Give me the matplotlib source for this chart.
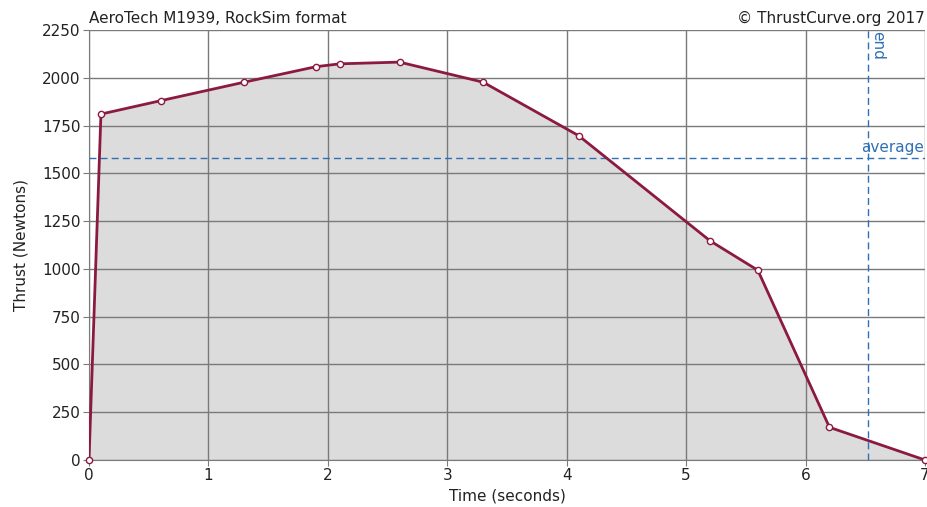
import matplotlib
matplotlib.use('Agg')
import matplotlib.pyplot as plt

# thrust curve data points (seconds, Newtons)
time_s = [0.0, 0.1, 0.6, 1.3, 1.9, 2.1, 2.6, 3.3, 4.1, 5.2, 5.6, 6.2, 7.0]
thrust_n = [0, 1810, 1880, 1977, 2058, 2073, 2082, 1977, 1697, 1147, 993, 171, 0]

average_thrust = 1582
burn_end = 6.52

x_ticks = [0, 1, 2, 3, 4, 5, 6, 7]
y_ticks = [0, 250, 500, 750, 1000, 1250, 1500, 1750, 2000, 2250]

title_left = 'AeroTech M1939, RockSim format'
title_right = '\u00a9 ThrustCurve.org 2017'

line_color = '#8c1a40'
ref_color = '#2f6fb5'
grid_color = '#7a7a7a'
text_color = '#222222'

fig = plt.figure(figsize=(9.27, 5.07), dpi=100)
ax = fig.add_axes([89 / 927, 47 / 507, 836 / 927, 430 / 507])

ax.fill_between(time_s, thrust_n, 0, color='#dcdcdc', zorder=1)
ax.plot(time_s, thrust_n, color=line_color, linewidth=2, zorder=3)
ax.plot(time_s, thrust_n, linestyle='none', marker='o', markersize=4.5,
        markerfacecolor='white', markeredgecolor=line_color, markeredgewidth=1, zorder=4,
        clip_on=False)

# average / end reference lines
ax.axhline(average_thrust, color=ref_color, linestyle=(0, (5, 3)), linewidth=1, zorder=2.6)
ax.axvline(burn_end, color=ref_color, linestyle=(0, (5, 3)), linewidth=1, zorder=2.6)
ax.text(6.99, average_thrust + 15, 'average', color=ref_color, fontsize=11,
        ha='right', va='bottom', zorder=5)
ax.text(burn_end + 0.02, 2245, 'end', color=ref_color, fontsize=11,
        rotation=-90, ha='left', va='top', zorder=5)

ax.set_xlim(0, 7)
ax.set_ylim(0, 2250)
ax.set_xticks(x_ticks)
ax.set_yticks(y_ticks)
ax.tick_params(labelsize=11, length=4, color=grid_color, pad=2, labelcolor=text_color)

# grid sits on top of the grey fill, under the curve
ax.grid(True, color=grid_color, linewidth=1, zorder=2)
ax.set_axisbelow(False)
for gl in ax.get_xgridlines() + ax.get_ygridlines():
    gl.set_zorder(2)
for side in ['top', 'right']:
    ax.spines[side].set_visible(False)
for side in ['left', 'bottom']:
    ax.spines[side].set_color(grid_color)

ax.set_xlabel('Time (seconds)', fontsize=11, labelpad=4, color=text_color)
ax.set_ylabel('Thrust (Newtons)', fontsize=11, labelpad=10, color=text_color)

fig.text(89 / 927, 1 - 23 / 507, title_left, fontsize=11, ha='left', va='baseline', color=text_color)
fig.text(925 / 927, 1 - 23 / 507, title_right, fontsize=11, ha='right', va='baseline', color=text_color)

plt.savefig('out.png', dpi=100)
